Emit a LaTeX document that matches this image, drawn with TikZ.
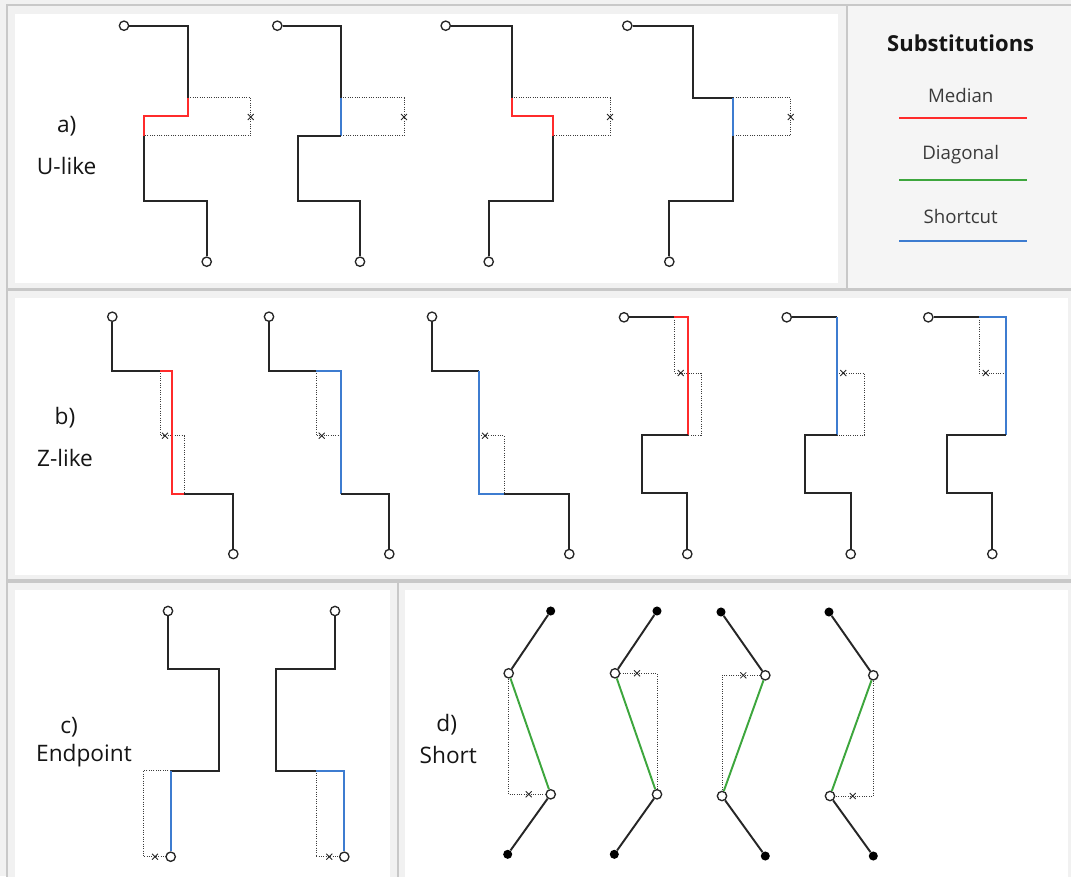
\documentclass[tikz,border=0pt]{standalone}
\usepackage{fontspec}
\setmainfont{Open Sans}
\usetikzlibrary{shapes.misc}
\definecolor{bgout}{HTML}{F1F1F1}
\definecolor{frame}{HTML}{C8C8C8}
\definecolor{legbg}{HTML}{F5F5F5}
\definecolor{medc}{HTML}{FF2B2B}
\definecolor{diagc}{HTML}{3DA63D}
\definecolor{scc}{HTML}{3D7CD0}
\definecolor{txt}{HTML}{151515}
\definecolor{legtxt}{HTML}{3A3A3A}
\definecolor{guidec}{HTML}{3C3C3C}
\tikzset{
  wire/.style={draw=black!85, line width=1.45pt},
  med/.style={draw=medc, line width=1.45pt},
  sc/.style={draw=scc, line width=1.45pt},
  dg/.style={draw=diagc, line width=1.45pt},
  guide/.style={draw=guidec, densely dotted, line width=0.75pt},
  endp/.style={circle, draw=black!85, fill=white, line width=1pt, minimum size=7pt, inner sep=0pt},
  fdot/.style={circle, fill=black, minimum size=6.8pt, inner sep=0pt},
  xm/.style={cross out, draw=black!85, line width=0.65pt, minimum size=3.8pt, inner sep=0pt},
  lbl/.style={font=\fontsize{17}{20}\selectfont, text=txt, inner sep=0pt},
  legt/.style={font=\fontsize{14}{17}\selectfont, text=legtxt, inner sep=0pt},
  outerp/.style={fill=bgout, draw=frame, line width=0.8pt},
  innerp/.style={fill=white}
}
\begin{document}
\begin{tikzpicture}[x=0.75pt,y=-0.75pt]
\useasboundingbox (0,0) rectangle (1071,876);
\fill[bgout] (0,0) rectangle (1071,876);
% panels
\draw[outerp] (7,5) rectangle (847,289);
\fill[innerp] (15,14) rectangle (838,283);
\draw[outerp, fill=legbg] (847,5) rectangle (1075,289);
\draw[outerp] (7,290) rectangle (1075,580);
\fill[innerp] (15,298) rectangle (1068,575);
\draw[outerp] (7,582) rectangle (398,880);
\fill[innerp] (15,590) rectangle (390,880);
\draw[outerp] (398,582) rectangle (1075,880);
\fill[innerp] (405,590) rectangle (1068,880);

% legend
\node[font=\bfseries\fontsize{16.5}{20}\selectfont, text=txt, inner sep=0pt] (legtitle) at (960.7,43.3) {Substitutions};
\node[legt] (legm) at (960.7,95.7) {Median};
\node[legt] (legd) at (960.7,155) {Diagonal};
\node[legt] (legs) at (960.7,216) {Shortcut};
\coordinate (lm1) at (899.3,118); \coordinate (lm2) at (1026.7,118);
\coordinate (ld1) at (899.3,180); \coordinate (ld2) at (1026.7,180);
\coordinate (ls1) at (899.3,241); \coordinate (ls2) at (1026.7,241);
\draw[draw=medc, line width=1pt] (lm1) -- (lm2);
\draw[draw=diagc, line width=1pt] (ld1) -- (ld2);
\draw[draw=scc, line width=1pt] (ls1) -- (ls2);

% labels
\node[lbl] (la) at (66.7,126) {a)};
\node[lbl] (laa) at (66.7,165.7) {U-like};
\node[lbl] (lb) at (65,417.7) {b)};
\node[lbl] (lbb) at (65,458.3) {Z-like};
\node[lbl] (lc) at (69,726.7) {c)};
\node[lbl] (lcc) at (84,756) {Endpoint};
\node[lbl] (ld) at (446.7,724.3) {d)};
\node[lbl] (ldd) at (448.3,755) {Short};

% ---------- panel a ----------
% a1
\draw[guide] (188,97.7) -- (250.7,97.7) -- (250.7,135.7) -- (144.3,135.7);
\node[xm] (a1x) at (250.7,117) {};
\node[endp] (a1s) at (124,25.7) {};
\node[endp] (a1e) at (206.7,261.7) {};
\draw[wire] (a1s) -- (188,25.7) -- (188,97.7);
\draw[med] (188,97.7) -- (188,116.3) -- (144.3,116.3) -- (144.3,135.7);
\draw[wire] (144.3,135.7) -- (144.3,201.3) -- (206.7,201.3) -- (a1e);
% a2
\draw[guide] (340.7,97.7) -- (404,97.7) -- (404,135.7) -- (340.7,135.7);
\node[xm] (a2x) at (404,117) {};
\node[endp] (a2s) at (277.3,25.7) {};
\node[endp] (a2e) at (360,261.7) {};
\draw[wire] (a2s) -- (340.7,25.7) -- (340.7,97.7);
\draw[sc] (340.7,97.7) -- (340.7,135.7);
\draw[wire] (340.7,135.7) -- (297.7,135.7) -- (297.7,201.3) -- (360,201.3) -- (a2e);
% a3
\draw[guide] (511.7,97.7) -- (610,97.7) -- (610,135.7) -- (553.3,135.7);
\node[xm] (a3x) at (610,117) {};
\node[endp] (a3s) at (445.7,25.7) {};
\node[endp] (a3e) at (488.7,261.7) {};
\draw[wire] (a3s) -- (511.7,25.7) -- (511.7,97.7);
\draw[med] (511.7,97.7) -- (511.7,116.3) -- (553.3,116.3) -- (553.3,135.7);
\draw[wire] (553.3,135.7) -- (553.3,201.3) -- (488.7,201.3) -- (a3e);
% a4
\draw[guide] (733.3,97.7) -- (790.7,97.7) -- (790.7,135.7) -- (733.3,135.7);
\node[xm] (a4x) at (790.7,117) {};
\node[endp] (a4s) at (627.3,25.7) {};
\node[endp] (a4e) at (669.3,261.7) {};
\draw[wire] (a4s) -- (693.3,25.7) -- (693.3,97.7) -- (733.3,97.7);
\draw[sc] (733.3,97.7) -- (733.3,135.7);
\draw[wire] (733.3,135.7) -- (733.3,201.3) -- (669.3,201.3) -- (a4e);

% ---------- panel b ----------
% b1
\draw[guide] (160,371) -- (160,435.7) -- (184,435.7) -- (184,494);
\node[xm] (b1x) at (165,435.7) {};
\node[endp] (b1s) at (112.3,316.7) {};
\node[endp] (b1e) at (233.3,554) {};
\draw[wire] (b1s) -- (112.3,371) -- (160,371);
\draw[med] (160,371) -- (172.3,371) -- (172.3,494) -- (184,494);
\draw[wire] (184,494) -- (233.3,494) -- (b1e);
% b2
\draw[guide] (316,371) -- (316,435.7) -- (340.7,435.7);
\node[xm] (b2x) at (321.7,435.7) {};
\node[endp] (b2s) at (269,316.7) {};
\node[endp] (b2e) at (389.3,554) {};
\draw[wire] (b2s) -- (269,371) -- (316,371);
\draw[sc] (316,371) -- (340.7,371) -- (340.7,494);
\draw[wire] (340.7,494) -- (389.3,494) -- (b2e);
% b3
\draw[guide] (479,435.7) -- (504,435.7) -- (504,494);
\node[xm] (b3x) at (485,435.7) {};
\node[endp] (b3s) at (432,316.7) {};
\node[endp] (b3e) at (569.3,554) {};
\draw[wire] (b3s) -- (432,371) -- (479,371);
\draw[sc] (479,371) -- (479,494) -- (504,494);
\draw[wire] (504,494) -- (569.3,494) -- (b3e);
% b4
\draw[guide] (674.3,317.3) -- (674.3,373) -- (701,373) -- (701,435.3) -- (688,435.3);
\node[xm] (b4x) at (680.7,373) {};
\node[endp] (b4s) at (624,317.3) {};
\node[endp] (b4e) at (687.3,554) {};
\draw[wire] (b4s) -- (674.3,317.3);
\draw[med] (674.3,317.3) -- (688,317.3) -- (688,435.3);
\draw[wire] (688,435.3) -- (642,435.3) -- (642,493) -- (687.3,493) -- (b4e);
% b5
\draw[guide] (837,373) -- (864.3,373) -- (864.3,435.3) -- (837,435.3);
\node[xm] (b5x) at (843.3,373) {};
\node[endp] (b5s) at (786.7,317.3) {};
\node[endp] (b5e) at (850.7,554) {};
\draw[wire] (b5s) -- (837,317.3);
\draw[sc] (837,317.3) -- (837,435.3);
\draw[wire] (837,435.3) -- (805.3,435.3) -- (805.3,493) -- (850.7,493) -- (b5e);
% b6
\draw[guide] (979,317.3) -- (979,373) -- (1005.7,373);
\node[xm] (b6x) at (985.7,373) {};
\node[endp] (b6s) at (928.3,317.3) {};
\node[endp] (b6e) at (992.3,554) {};
\draw[wire] (b6s) -- (979,317.3);
\draw[sc] (979,317.3) -- (1005.7,317.3) -- (1005.7,435.3);
\draw[wire] (1005.7,435.3) -- (946.7,435.3) -- (946.7,493) -- (992.3,493) -- (b6e);

% ---------- panel c ----------
% c1
\node[endp] (c1s) at (168,611) {};
\node[endp] (c1e) at (170.7,856.7) {};
\draw[guide] (170.7,770.7) -- (143.3,770.7) -- (143.3,856.7) -- (c1e);
\node[xm] (c1x) at (155,856.7) {};
\draw[wire] (c1s) -- (168,669.3) -- (218.7,669.3) -- (218.7,770.7) -- (170.7,770.7);
\draw[sc] (170.7,770.7) -- (c1e);
% c2
\node[endp] (c2s) at (335,611) {};
\node[endp] (c2e) at (344.3,856.7) {};
\draw[guide] (316,770.7) -- (316,856.7) -- (c2e);
\node[xm] (c2x) at (329.3,856.7) {};
\draw[wire] (c2s) -- (335,669.3) -- (276,669.3) -- (276,770.7) -- (316,770.7);
\draw[sc] (316,770.7) -- (344.3,770.7) -- (c2e);

% ---------- panel d ----------
% d1
\node[fdot] (d1t) at (550.7,611) {};
\node[endp] (d1a) at (508.7,673.3) {};
\node[endp] (d1b) at (550.7,794.3) {};
\node[fdot] (d1u) at (507.7,854.3) {};
\draw[guide] (d1a) -- (508.7,794.3) -- (d1b);
\node[xm] (d1x) at (528.7,794.3) {};
\draw[wire] (d1t) -- (d1a);
\draw[dg] (d1a) -- (d1b);
\draw[wire] (d1b) -- (d1u);
% d2
\node[fdot] (d2t) at (657,611) {};
\node[endp] (d2a) at (615,673.3) {};
\node[endp] (d2b) at (657,794.3) {};
\node[fdot] (d2u) at (614.3,854.3) {};
\draw[guide] (d2a) -- (657,673.3) -- (d2b);
\node[xm] (d2x) at (637,673.3) {};
\draw[wire] (d2t) -- (d2a);
\draw[dg] (d2a) -- (d2b);
\draw[wire] (d2b) -- (d2u);
% d3
\node[fdot] (d3t) at (721,612) {};
\node[endp] (d3a) at (765.3,675.3) {};
\node[endp] (d3b) at (722,796) {};
\node[fdot] (d3u) at (765.3,856) {};
\draw[guide] (d3a) -- (722,675.3) -- (d3b);
\node[xm] (d3x) at (743.3,675.3) {};
\draw[wire] (d3t) -- (d3a);
\draw[dg] (d3a) -- (d3b);
\draw[wire] (d3b) -- (d3u);
% d4
\node[fdot] (d4t) at (829,612) {};
\node[endp] (d4a) at (873.3,675.3) {};
\node[endp] (d4b) at (830,796) {};
\node[fdot] (d4u) at (873.3,856) {};
\draw[guide] (d4a) -- (873.3,796) -- (d4b);
\node[xm] (d4x) at (852.7,796) {};
\draw[wire] (d4t) -- (d4a);
\draw[dg] (d4a) -- (d4b);
\draw[wire] (d4b) -- (d4u);
\end{tikzpicture}
\end{document}
